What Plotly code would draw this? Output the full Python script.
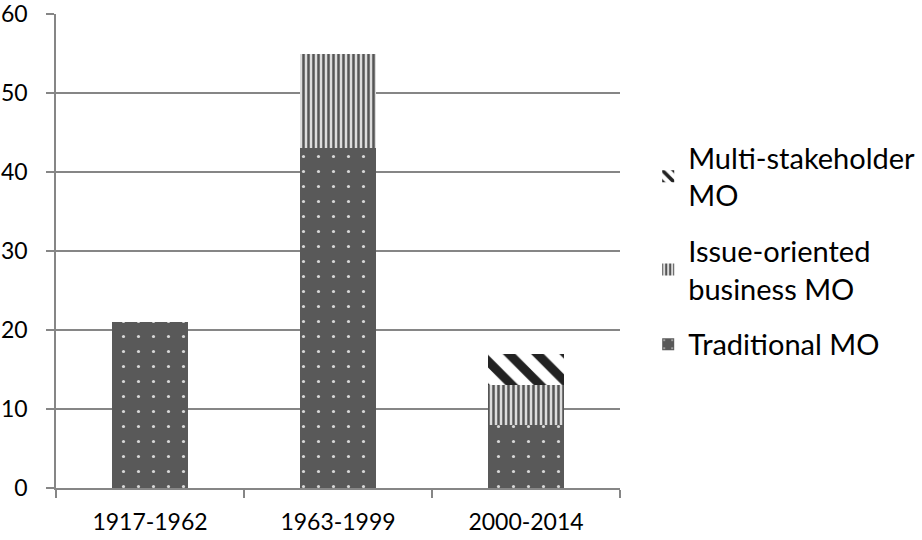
import plotly.graph_objects as go

categories = ["1917-1962", "1963-1999", "2000-2014"]
traditional = [21, 43, 8]
issue_oriented = [0, 12, 5]
multi_stakeholder = [0, 0, 4]
series_names = ["Traditional MO", "Issue-oriented<br>business MO", "Multi-stakeholder<br>MO"]
y_ticks = [0, 10, 20, 30, 40, 50, 60]

FONT = "Lato"
fig = go.Figure()
fig.add_trace(go.Bar(
    x=categories, y=traditional, name=series_names[0], legendgroup="a", legendrank=3,
    marker=dict(color="#595959", line=dict(width=0),
                pattern=dict(shape=".", fgcolor="#d8d8d8", bgcolor="#595959",
                             size=15, solidity=0.035, fillmode="replace")),
))
fig.add_trace(go.Bar(
    x=categories, y=issue_oriented, name=series_names[1], legendgroup="b", legendrank=2,
    marker=dict(color="#7f7f7f", line=dict(width=0),
                pattern=dict(shape="|", fgcolor="#555555", bgcolor="#dcdcdc",
                             size=5, solidity=0.5, fillmode="replace")),
))
fig.add_trace(go.Bar(
    x=categories, y=multi_stakeholder, name=series_names[2], legendgroup="c", legendrank=1,
    marker=dict(color="#333333", line=dict(width=0),
                pattern=dict(shape="\\", fgcolor="#222222", bgcolor="#ffffff",
                             size=20, solidity=0.45, fillmode="replace")),
))

fig.update_layout(
    barmode="stack",
    bargap=0.6,
    width=922, height=540,
    paper_bgcolor="white", plot_bgcolor="white",
    margin=dict(l=56, r=302, t=14, b=52, autoexpand=False),
    font=dict(family=FONT, size=23, color="#000000"),
    legend=dict(x=1.05, y=0.5, xanchor="left", yanchor="middle",
                traceorder="grouped", tracegroupgap=15,
                font=dict(family=FONT, size=29), itemwidth=30),
    showlegend=True,
)
fig.update_xaxes(
    type="category", showline=True, linecolor="#868686", linewidth=1.5,
    ticks="outside", ticklen=8, tickcolor="#868686", tickwidth=1.5,
    tickson="boundaries", showgrid=False, ticklabelstandoff=13,
    tickfont=dict(family=FONT, size=23), automargin=False, ticklabeloverflow="allow",
)
fig.update_yaxes(
    range=[0, 60], tickvals=y_ticks, showline=True, linecolor="#868686", linewidth=1.5,
    ticks="outside", ticklen=8, tickcolor="#868686", tickwidth=1.5,
    showgrid=True, gridcolor="#868686", gridwidth=1.5, zeroline=False,
    ticklabelstandoff=14, tickfont=dict(family=FONT, size=23), automargin=False,
    ticklabeloverflow="allow",
)

fig.write_html("out.html", config={"displayModeBar": False})

# remove the browser's default page margin so the figure fills the window exactly
with open("out.html", "r", encoding="utf-8") as f:
    html = f.read()
html = html.replace("<head>", "<head><style>html,body{margin:0;padding:0;overflow:hidden;}</style>", 1)
with open("out.html", "w", encoding="utf-8") as f:
    f.write(html)
